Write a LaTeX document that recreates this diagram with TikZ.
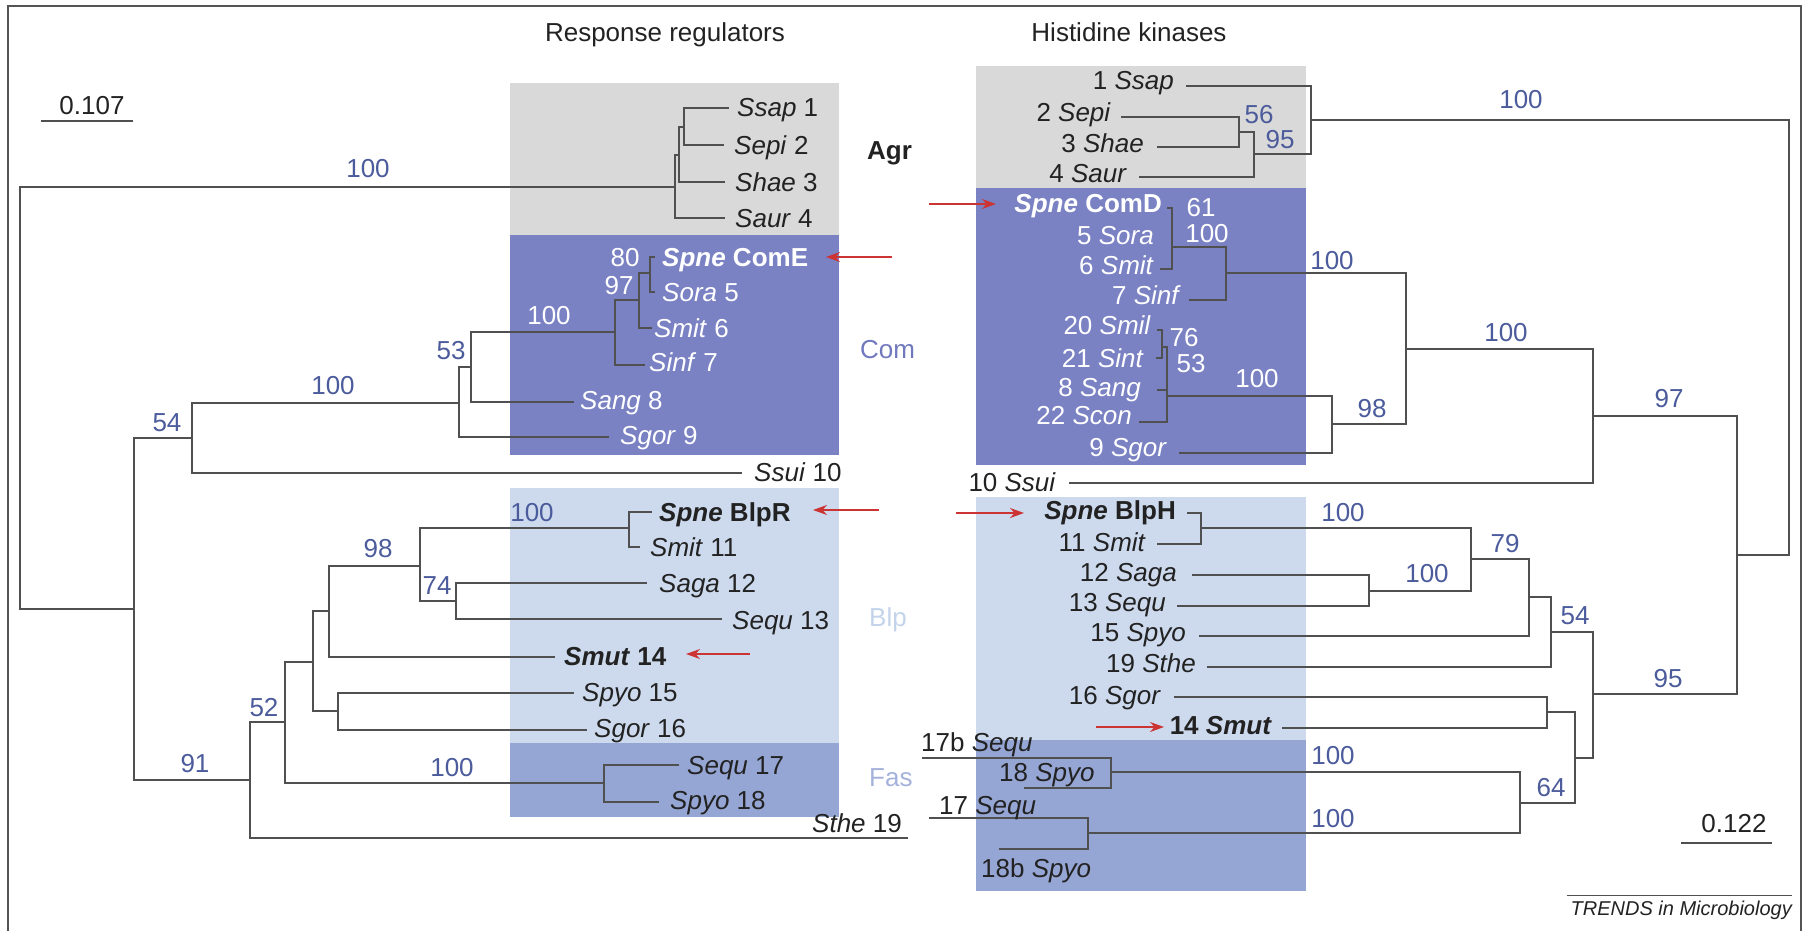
\documentclass[tikz,border=0pt]{standalone}
\usepackage{fontspec}
\setmainfont{Liberation Sans}
\usetikzlibrary{arrows.meta}
\definecolor{linegray}{HTML}{505050}
\definecolor{framegray}{HTML}{555555}
\definecolor{agrgray}{HTML}{D9D9D9}
\definecolor{comblue}{HTML}{7A82C4}
\definecolor{blplight}{HTML}{CDDAEE}
\definecolor{fasblue}{HTML}{96A6D4}
\definecolor{bsblue}{HTML}{4B5B9B}
\definecolor{comtext}{HTML}{7078BE}
\definecolor{blptext}{HTML}{C3D3EA}
\definecolor{fastext}{HTML}{A5B2DC}
\definecolor{arrred}{HTML}{CC3333}
\definecolor{txt}{HTML}{222222}
\newcommand\lblfont{\fontsize{26}{30}\selectfont}
\newcommand\smlfont{\fontsize{20}{24}\selectfont}
\tikzset{
  br/.style={draw=linegray, line width=1.7pt},
  lab/.style={inner sep=0pt, font=\lblfont, text=txt, anchor=base west},
  labr/.style={inner sep=0pt, font=\lblfont, text=txt, anchor=base east},
  wlab/.style={lab, text=white},
  wlabr/.style={labr, text=white},
  bs/.style={inner sep=0pt, font=\lblfont, text=bsblue, anchor=base},
  wbs/.style={bs, text=white},
  arr/.style={draw=arrred, line width=1.6pt, -{Stealth[length=14pt,width=10pt]}},
}
\begin{document}
\begin{tikzpicture}[x=1pt,y=-1pt]
\useasboundingbox (0,0) rectangle (1806,931);
% frame
\draw[draw=framegray, line width=2pt] (8,931) -- (8,6) -- (1801,6) -- (1801,931);
% titles
\node[inner sep=0pt, font=\lblfont, text=txt, anchor=base] (ttlR) at (665,42) {Response regulators};
\node[inner sep=0pt, font=\lblfont, text=txt, anchor=base] (ttlH) at (1129,42) {Histidine kinases};
% boxes left
\fill[agrgray] (510,83) rectangle (839,235);
\fill[comblue] (510,235) rectangle (839,455);
\fill[blplight] (510,488) rectangle (839,743);
\fill[fasblue] (510,743) rectangle (839,817);
% boxes right
\fill[agrgray] (976,66) rectangle (1306,188);
\fill[comblue] (976,188) rectangle (1306,465);
\fill[blplight] (976,497) rectangle (1306,740);
\fill[fasblue] (976,740) rectangle (1306,891);
% group labels
\node[lab, font=\lblfont\bfseries] (gAgr) at (867,159) {Agr};
\node[lab, text=comtext] (gCom) at (860,358) {Com};
\node[lab, text=blptext] (gBlp) at (869,626) {Blp};
\node[lab, text=fastext] (gFas) at (869,786) {Fas};
% scale bars
\node[inner sep=0pt, font=\lblfont, text=txt, anchor=base] (sc1) at (92,114) {0.107};
\coordinate (sb1a) at (41,121); \coordinate (sb1b) at (133,121);
\draw[draw=linegray, line width=2pt] (sb1a) -- (sb1b);
\node[inner sep=0pt, font=\lblfont, text=txt, anchor=base] (sc2) at (1734,832) {0.122};
\coordinate (sb2a) at (1681,843); \coordinate (sb2b) at (1772,843);
\draw[draw=linegray, line width=2pt] (sb2a) -- (sb2b);
% credit
\coordinate (cr1) at (1567,895); \coordinate (cr2) at (1792,895);
\draw[draw=linegray, line width=1pt] (cr1) -- (cr2);
\node[inner sep=0pt, font=\smlfont\itshape, text=txt, anchor=base east] (credit) at (1792,915) {TRENDS in Microbiology};

% ================= LEFT TREE =================
\coordinate (Lroot) at (20,398);
\coordinate (Lagr) at (675,187);
\coordinate (LH) at (679,155);
\coordinate (LG) at (684,127);
\coordinate (t1) at (729,108);
\coordinate (t2) at (724,145);
\coordinate (t3) at (725,182);
\coordinate (t4) at (725,218);
\coordinate (L1) at (134,609);
\coordinate (LA) at (192,438);
\coordinate (LB) at (459,403);
\coordinate (LC) at (471,367);
\coordinate (LD) at (615,332);
\coordinate (LE) at (639,300);
\coordinate (LF) at (650,273);
\coordinate (tComE) at (655,257);
\coordinate (t5) at (655,292);
\coordinate (t6) at (652,328);
\coordinate (t7) at (645,365);
\coordinate (t8) at (574,402);
\coordinate (t9) at (609,437);
\coordinate (t10) at (742,473);
\coordinate (LJ) at (250,780);
\coordinate (LK) at (285,722);
\coordinate (LL) at (313,662);
\coordinate (LM) at (329,611);
\coordinate (LO) at (420,566);
\coordinate (LP) at (629,528);
\coordinate (LQ) at (456,601);
\coordinate (LN) at (338,711);
\coordinate (LFas) at (604,783);
\coordinate (tBlpR) at (652,512);
\coordinate (t11) at (640,547);
\coordinate (t12) at (647,583);
\coordinate (t13) at (722,619);
\coordinate (t14) at (555,657);
\coordinate (t15) at (574,693);
\coordinate (t16) at (587,730);
\coordinate (t17) at (679,765);
\coordinate (t18) at (659,802);
\coordinate (t19) at (908,838);

\draw[br] (Lroot) |- (Lagr);
\draw[br] (Lroot) |- (L1);
\draw[br] (Lagr) |- (LH);
\draw[br] (Lagr) |- (t4);
\draw[br] (LH) |- (LG);
\draw[br] (LH) |- (t3);
\draw[br] (LG) |- (t1);
\draw[br] (LG) |- (t2);
\draw[br] (L1) |- (LA);
\draw[br] (L1) |- (LJ);
\draw[br] (LA) |- (LB);
\draw[br] (LA) |- (t10);
\draw[br] (LB) |- (LC);
\draw[br] (LB) |- (t9);
\draw[br] (LC) |- (LD);
\draw[br] (LC) |- (t8);
\draw[br] (LD) |- (LE);
\draw[br] (LD) |- (t7);
\draw[br] (LE) |- (LF);
\draw[br] (LE) |- (t6);
\draw[br] (LF) |- (tComE);
\draw[br] (LF) |- (t5);
\draw[br] (LJ) |- (LK);
\draw[br] (LJ) |- (t19);
\draw[br] (LK) |- (LL);
\draw[br] (LK) |- (LFas);
\draw[br] (LL) |- (LM);
\draw[br] (LL) |- (LN);
\draw[br] (LM) |- (LO);
\draw[br] (LM) |- (t14);
\draw[br] (LO) |- (LP);
\draw[br] (LO) |- (LQ);
\draw[br] (LP) |- (tBlpR);
\draw[br] (LP) |- (t11);
\draw[br] (LQ) |- (t12);
\draw[br] (LQ) |- (t13);
\draw[br] (LN) |- (t15);
\draw[br] (LN) |- (t16);
\draw[br] (LFas) |- (t17);
\draw[br] (LFas) |- (t18);

% left labels
\node[lab] (lSsap) at (737,117) {\textit{Ssap} 1};
\node[lab] (lSepi) at (734,154) {\textit{Sepi} 2};
\node[lab] (lShae) at (735,191) {\textit{Shae} 3};
\node[lab] (lSaur) at (735,227) {\textit{Saur} 4};
\node[wlab, font=\lblfont\bfseries] (lComE) at (662,266) {\textit{Spne} ComE};
\node[wlab] (lSora) at (662,301) {\textit{Sora} 5};
\node[wlab] (lSmit) at (654,337) {\textit{Smit} 6};
\node[wlab] (lSinf) at (649,371) {\textit{Sinf} 7};
\node[wlab] (lSang) at (580,409) {\textit{Sang} 8};
\node[wlab] (lSgor) at (620,444) {\textit{Sgor} 9};
\node[lab] (lSsui) at (754,481) {\textit{Ssui} 10};
\node[lab, font=\lblfont\bfseries] (lBlpR) at (659,521) {\textit{Spne} BlpR};
\node[lab] (lSmit11) at (650,556) {\textit{Smit} 11};
\node[lab] (lSaga) at (659,592) {\textit{Saga} 12};
\node[lab] (lSequ13) at (732,629) {\textit{Sequ} 13};
\node[lab, font=\lblfont\bfseries] (lSmut) at (564,665) {\textit{Smut} 14};
\node[lab] (lSpyo15) at (582,701) {\textit{Spyo} 15};
\node[lab] (lSgor16) at (594,737) {\textit{Sgor} 16};
\node[lab] (lSequ17) at (687,774) {\textit{Sequ} 17};
\node[lab] (lSpyo18) at (670,809) {\textit{Spyo} 18};
\node[lab] (lSthe) at (812,832) {\textit{Sthe} 19};

% left bootstrap values
\node[bs] (b1) at (368,177) {100};
\node[bs] (b2) at (451,359) {53};
\node[bs] (b3) at (333,394) {100};
\node[bs] (b4) at (167,431) {54};
\node[wbs] (b5) at (549,324) {100};
\node[wbs] (b6) at (619,294) {97};
\node[wbs] (b7) at (625,266) {80};
\node[bs] (b8) at (378,557) {98};
\node[bs] (b9) at (437,594) {74};
\node[bs] (b10) at (532,521) {100};
\node[bs] (b11) at (264,716) {52};
\node[bs] (b12) at (195,772) {91};
\node[bs] (b13) at (452,776) {100};

% ================= RIGHT TREE =================
\coordinate (Rroot) at (1789,338);
\coordinate (RU) at (1311,120);
\coordinate (RT) at (1254,154);
\coordinate (RS) at (1239,132);
\coordinate (r1) at (1186,86);
\coordinate (r2) at (1121,117);
\coordinate (r3) at (1157,147);
\coordinate (r4) at (1139,177);
\coordinate (RZ) at (1737,555);
\coordinate (RY) at (1593,416);
\coordinate (RX) at (1406,349);
\coordinate (RV) at (1226,273);
\coordinate (RCD) at (1172,247);
\coordinate (rComD) at (1167,208);
\coordinate (r6) at (1160,269);
\coordinate (r7) at (1189,300);
\coordinate (RW) at (1332,424);
\coordinate (RSa) at (1167,396);
\coordinate (RSm) at (1162,347);
\coordinate (r20) at (1157,330);
\coordinate (r21) at (1156,358);
\coordinate (r8) at (1157,390);
\coordinate (r22) at (1139,422);
\coordinate (r9) at (1179,453);
\coordinate (r10) at (1069,483);
\coordinate (R95) at (1593,694);
\coordinate (R54) at (1551,632);
\coordinate (R79b) at (1529,597);
\coordinate (R79) at (1471,559);
\coordinate (RBl) at (1201,528);
\coordinate (RSg) at (1369,591);
\coordinate (rBlpH) at (1187,513);
\coordinate (r11) at (1157,544);
\coordinate (r12) at (1192,575);
\coordinate (r13) at (1177,606);
\coordinate (r15) at (1199,636);
\coordinate (r19) at (1207,667);
\coordinate (R64) at (1575,758);
\coordinate (RSmut) at (1547,712);
\coordinate (r16) at (1174,697);
\coordinate (r14) at (1282,728);
\coordinate (R64b) at (1520,803);
\coordinate (R17b) at (1111,772);
\coordinate (R17) at (1088,833);
\coordinate (r17b) at (922,758);
\coordinate (r18) at (1024,788);
\coordinate (r17) at (929,818);
\coordinate (r18b) at (999,849);

\draw[br] (Rroot) |- (RU);
\draw[br] (Rroot) |- (RZ);
\draw[br] (RU) |- (r1);
\draw[br] (RU) |- (RT);
\draw[br] (RT) |- (RS);
\draw[br] (RT) |- (r4);
\draw[br] (RS) |- (r2);
\draw[br] (RS) |- (r3);
\draw[br] (RZ) |- (RY);
\draw[br] (RZ) |- (R95);
\draw[br] (RY) |- (RX);
\draw[br] (RY) |- (r10);
\draw[br] (RX) |- (RV);
\draw[br] (RX) |- (RW);
\draw[br] (RV) |- (RCD);
\draw[br] (RV) |- (r7);
\draw[br] (RCD) |- (rComD);
\draw[br] (RCD) |- (r6);
\draw[br] (RW) |- (RSa);
\draw[br] (RW) |- (r9);
\draw[br] (RSa) |- (RSm);
\draw[br] (RSa) |- (r8);
\draw[br] (RSa) |- (r22);
\draw[br] (RSm) |- (r20);
\draw[br] (RSm) |- (r21);
\draw[br] (R95) |- (R54);
\draw[br] (R95) |- (R64);
\draw[br] (R54) |- (R79b);
\draw[br] (R54) |- (r19);
\draw[br] (R79b) |- (R79);
\draw[br] (R79b) |- (r15);
\draw[br] (R79) |- (RBl);
\draw[br] (R79) |- (RSg);
\draw[br] (RBl) |- (rBlpH);
\draw[br] (RBl) |- (r11);
\draw[br] (RSg) |- (r12);
\draw[br] (RSg) |- (r13);
\draw[br] (R64) |- (RSmut);
\draw[br] (R64) |- (R64b);
\draw[br] (RSmut) |- (r16);
\draw[br] (RSmut) |- (r14);
\draw[br] (R64b) |- (R17b);
\draw[br] (R64b) |- (R17);
\draw[br] (R17b) |- (r17b);
\draw[br] (R17b) |- (r18);
\draw[br] (R17) |- (r17);
\draw[br] (R17) |- (r18b);

% right labels
\node[labr] (hSsap) at (1174,90) {1 \textit{Ssap}};
\node[labr] (hSepi) at (1111,122) {2 \textit{Sepi}};
\node[labr] (hShae) at (1144,152) {3 \textit{Shae}};
\node[labr] (hSaur) at (1127,182) {4 \textit{Saur}};
\node[wlabr, font=\lblfont\bfseries] (hComD) at (1162,212) {\textit{Spne} ComD};
\node[wlabr] (hSora) at (1154,244) {5 \textit{Sora}};
\node[wlabr] (hSmit) at (1154,274) {6 \textit{Smit}};
\node[wlabr] (hSinf) at (1181,304) {7 \textit{Sinf}};
\node[wlabr] (hSmil) at (1151,334) {20 \textit{Smil}};
\node[wlabr] (hSint) at (1144,367) {21 \textit{Sint}};
\node[wlabr] (hSang) at (1141,396) {8 \textit{Sang}};
\node[wlabr] (hScon) at (1132,424) {22 \textit{Scon}};
\node[wlabr] (hSgor) at (1167,456) {9 \textit{Sgor}};
\node[labr] (hSsui) at (1056,491) {10 \textit{Ssui}};
\node[labr, font=\lblfont\bfseries] (hBlpH) at (1176,519) {\textit{Spne} BlpH};
\node[labr] (hSmit11) at (1146,551) {11 \textit{Smit}};
\node[labr] (hSaga) at (1177,581) {12 \textit{Saga}};
\node[labr] (hSequ13) at (1166,611) {13 \textit{Sequ}};
\node[labr] (hSpyo15) at (1186,641) {15 \textit{Spyo}};
\node[labr] (hSthe) at (1196,672) {19 \textit{Sthe}};
\node[labr] (hSgor16) at (1161,704) {16 \textit{Sgor}};
\node[labr, font=\lblfont\bfseries] (hSmut) at (1272,734) {14 \textit{Smut}};
\node[lab] (hSequ17b) at (921,751) {17b \textit{Sequ}};
\node[lab] (hSpyo18) at (999,781) {18 \textit{Spyo}};
\node[lab] (hSequ17) at (939,814) {17 \textit{Sequ}};
\node[lab] (hSpyo18b) at (981,877) {18b \textit{Spyo}};

% right bootstrap values
\node[bs] (c1) at (1259,124) {56};
\node[bs] (c2) at (1280,149) {95};
\node[bs] (c3) at (1521,109) {100};
\node[wbs] (c4) at (1201,216) {61};
\node[wbs] (c5) at (1207,242) {100};
\node[bs] (c6) at (1332,269) {100};
\node[wbs] (c7) at (1184,346) {76};
\node[wbs] (c8) at (1191,372) {53};
\node[wbs] (c9) at (1257,387) {100};
\node[bs] (c10) at (1372,417) {98};
\node[bs] (c11) at (1506,341) {100};
\node[bs] (c12) at (1669,407) {97};
\node[bs] (c13) at (1343,521) {100};
\node[bs] (c14) at (1505,552) {79};
\node[bs] (c15) at (1427,582) {100};
\node[bs] (c16) at (1575,624) {54};
\node[bs] (c17) at (1668,687) {95};
\node[bs] (c18) at (1333,764) {100};
\node[bs] (c19) at (1333,827) {100};
\node[bs] (c20) at (1551,796) {64};

% red arrows
\coordinate (aComEs) at (892,257); \coordinate (aComEe) at (826,257);
\coordinate (aComDs) at (929,204); \coordinate (aComDe) at (996,204);
\coordinate (aBlpRs) at (879,510); \coordinate (aBlpRe) at (813,510);
\coordinate (aBlpHs) at (956,513); \coordinate (aBlpHe) at (1024,513);
\coordinate (aSmLs) at (750,654); \coordinate (aSmLe) at (686,654);
\coordinate (aSmRs) at (1096,727); \coordinate (aSmRe) at (1164,727);
\draw[arr] (aComEs) -- (aComEe);
\draw[arr] (aComDs) -- (aComDe);
\draw[arr] (aBlpRs) -- (aBlpRe);
\draw[arr] (aBlpHs) -- (aBlpHe);
\draw[arr] (aSmLs) -- (aSmLe);
\draw[arr] (aSmRs) -- (aSmRe);
\end{tikzpicture}
\end{document}
